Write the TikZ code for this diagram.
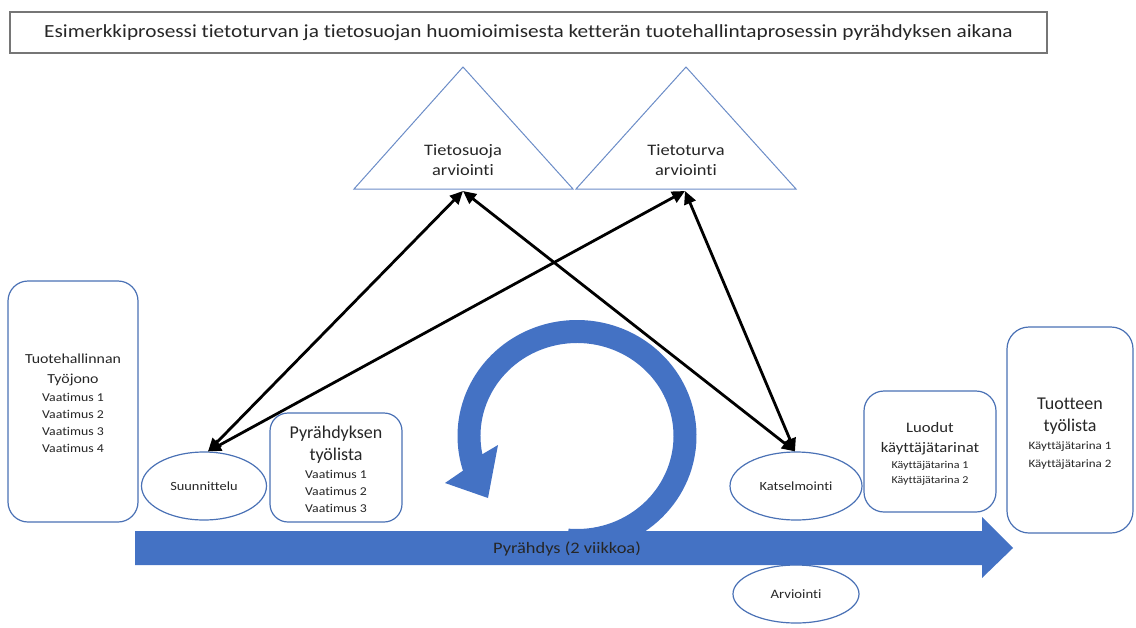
\documentclass[tikz,border=0pt]{standalone}
\usepackage{fontspec}
\setmainfont{Carlito}[FakeStretch=1.15,Ligatures=NoCommon]
\newfontfamily\headface{Carlito}[Ligatures=NoCommon]
\usetikzlibrary{arrows.meta,shapes.geometric,calc}
\definecolor{fillblue}{HTML}{4472C4}
\definecolor{edgeblue}{HTML}{4A71B5}
\definecolor{triblue}{HTML}{6B8CC7}
\definecolor{ink}{HTML}{262626}
\definecolor{framegray}{HTML}{767676}
\newcommand{\fs}[2]{\fontsize{#1}{#2}\selectfont}
\newcommand{\tallline}[1]{\rule{0pt}{#1}}

\begin{document}
\begin{tikzpicture}[x=1pt,y=-1pt,
  roundbox/.style={draw=edgeblue,line width=1.2pt,rounded corners=20pt,fill=white},
  oval/.style={draw=edgeblue,line width=1.2pt,ellipse,inner sep=0pt,text=ink},
  tri/.style={draw=triblue,line width=1pt},
  boxtext/.style={anchor=north,align=center,inner sep=0pt,text=ink},
  link/.style={line width=2.8pt,{Triangle[length=13pt,width=12pt]}-{Triangle[length=13pt,width=12pt]}},
]
\useasboundingbox (0,0) rectangle (1136,627);

% heading frame
\node[draw=framegray,line width=1.4pt,minimum width=1037,minimum height=41,inner sep=0pt,text=ink,font=\fs{18.5}{20}] (title) at (528.5,32.5)
  {Esimerkkiprosessi tietoturvan ja tietosuojan huomioimisesta ketterän tuotehallintaprosessin pyrähdyksen aikana};

% assessment triangles
\draw[tri] (354,189) -- (463,67) -- (573,189) -- cycle;
\draw[tri] (576,189) -- (686,67) -- (796,189) -- cycle;
\coordinate (privacyBase) at (463,191);
\coordinate (securityBase) at (685,191);
\node[boxtext,font=\fs{16}{20}] (privacyText) at (463,143) {\tallline{12pt}Tietosuoja\\arviointi};
\node[boxtext,font=\fs{16}{20}] (securityText) at (686,143) {\tallline{12pt}Tietoturva\\arviointi};

% lists
\node[roundbox,minimum width=130,minimum height=241] (backlog) at (73,401.5) {};
\node[roundbox,minimum width=132,minimum height=109,rounded corners=18pt] (sprintlist) at (336,467.5) {};
\node[roundbox,minimum width=132,minimum height=121] (created) at (930,451.5) {};
\node[roundbox,minimum width=126,minimum height=206,rounded corners=22pt] (product) at (1070,430) {};

% process steps
\node[oval,minimum width=125,minimum height=68,font=\fs{12.5}{14}] (plan) at (204,486) {Suunnittelu};
\node[oval,minimum width=132,minimum height=68,font=\fs{12.5}{14}] (review) at (796,486) {Katselmointi};
\node[oval,minimum width=126,minimum height=58,font=\fs{12.8}{14}] (assess) at (796,594) {Arviointi};

% iteration loop
\coordinate (loop) at (577,436);
\fill[fillblue] ($(loop)+(95:119.5 and 116)$)
  arc[start angle=95,end angle=-197.4,x radius=119.5,y radius=116]
  -- (445,483) -- (488,498) -- (498,445)
  -- ($(loop)+(-191.3:96.5 and 93)$)
  arc[start angle=-191.3,end angle=95,x radius=96.5,y radius=93] -- cycle;

% sprint timeline
\fill[fillblue] (135,531) -- (982,531) -- (982,517) -- (1013,548) -- (982,578) -- (982,565) -- (135,565) -- cycle;
\node[text=ink,font=\fs{16}{18},inner sep=0pt] (sprint) at (567,549) {Pyrähdys (2 viikkoa)};

% assessment links
\draw[link] ([xshift=4]plan.north) -- (privacyBase);
\draw[link] ([xshift=4]plan.north) -- (securityBase);
\draw[link] ([xshift=-1]review.north) -- (privacyBase);
\draw[link] ([xshift=-1]review.north) -- (securityBase);

% list contents
\node[boxtext,font=\fs{12}{17}] (backlogText) at (73,351)
  {\fs{13.8}{17}\tallline{12pt}Tuotehallinnan\\[3pt]\fs{13.8}{17}Työjono\\[1pt]Vaatimus 1\\Vaatimus 2\\Vaatimus 3\\Vaatimus 4};
\node[boxtext,font=\fs{12}{17}] (sprintText) at (336,424)
  {\headface\fs{18}{17}\tallline{14pt}Pyrähdyksen\\[5pt]\headface\fs{18}{17}työlista\\[1pt]Vaatimus 1\\Vaatimus 2\\Vaatimus 3};
\node[boxtext,font=\fs{10.5}{15}] (createdText) at (930,420)
  {\fs{14.5}{15}\tallline{12pt}Luodut\\[5pt]\fs{14.5}{15}käyttäjätarinat\\[1pt]Käyttäjätarina 1\\Käyttäjätarina 2};
\node[boxtext,font=\fs{11.3}{18}] (productText) at (1070,395)
  {\headface\fs{18}{18}\tallline{14pt}Tuotteen\\[4pt]\headface\fs{18}{18}työlista\\Käyttäjätarina 1\\Käyttäjätarina 2};
\end{tikzpicture}
\end{document}
